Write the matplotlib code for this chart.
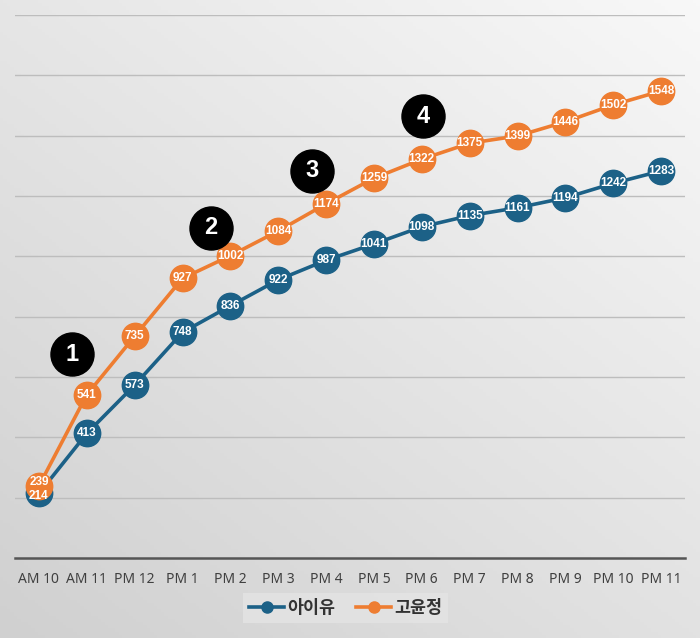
import numpy as np
import matplotlib
matplotlib.use("Agg")
import matplotlib.pyplot as plt
from matplotlib.lines import Line2D
from matplotlib.colors import LinearSegmentedColormap

hours = ["AM 10", "AM 11", "PM 12", "PM 1", "PM 2", "PM 3", "PM 4",
         "PM 5", "PM 6", "PM 7", "PM 8", "PM 9", "PM 10", "PM 11"]
iu = [214, 413, 573, 748, 836, 922, 987, 1041, 1098, 1135, 1161, 1194, 1242, 1283]
goyoonjung = [239, 541, 735, 927, 1002, 1084, 1174, 1259, 1322, 1375, 1399, 1446, 1502, 1548]
names = ["아이유", "고윤정"]

# numbered callouts (x index, value)
badge_x = [0.69, 3.6, 5.7, 8.02]
badge_y = [676, 1094, 1283, 1465]
badge_txt = ["1", "2", "3", "4"]

blue = "#1c6187"
orange = "#ee7d31"

fig = plt.figure(figsize=(7, 6.38), dpi=100)

# gradient background, darker at bottom-left
bg = fig.add_axes([0, 0, 1, 1])
xx, yy = np.meshgrid(np.linspace(0, 1, 200), np.linspace(0, 1, 200))
grad = 0.45 * xx + 0.55 * yy
cmap = LinearSegmentedColormap.from_list("bg", ["#d0d0d0", "#f8f8f8"])
bg.imshow(grad, cmap=cmap, vmin=0, vmax=1, origin="lower",
          extent=[0, 1, 0, 1], aspect="auto")
bg.axis("off")

ax = fig.add_axes([15 / 700, 80 / 638, 670 / 700, 543 / 638])
ax.patch.set_alpha(0)
x = np.arange(len(hours))

ax.plot(x, iu, color=blue, lw=2.6, marker="o", ms=19, zorder=3)
ax.plot(x, goyoonjung, color=orange, lw=2.6, marker="o", ms=19, zorder=4)
for xi, v in zip(x, iu):
    dy = -8 if xi == 0 else 0
    ax.text(xi, v + dy, str(v), color="white", fontsize=8.5, fontweight="bold",
            ha="center", va="center", family="Liberation Sans", zorder=5)
for xi, v in zip(x, goyoonjung):
    dy = 12 if xi == 0 else 0
    ax.text(xi, v + dy, str(v), color="white", fontsize=8.5, fontweight="bold",
            ha="center", va="center", family="Liberation Sans", zorder=6)

ax.scatter(badge_x, badge_y, s=960, color="black", zorder=7)
for bx, by, t in zip(badge_x, badge_y, badge_txt):
    ax.text(bx, by, t, color="white", fontsize=17, fontweight="bold",
            ha="center", va="center", family="Liberation Sans", zorder=8)

ax.set_xlim(-0.5, len(hours) - 0.5)
ax.set_ylim(0, 1800)
ax.set_yticks(np.arange(200, 1801, 200))
ax.yaxis.grid(True, color="#bdbdbd", lw=1)
ax.set_axisbelow(True)
ax.tick_params(axis="y", left=False, labelleft=False)
ax.set_xticks(x)
ax.set_xticklabels(hours, fontsize=10, color="#404040", family="Noto Sans")
ax.tick_params(axis="x", length=0, pad=10)
for s in ["top", "right", "left"]:
    ax.spines[s].set_visible(False)
ax.spines["bottom"].set_color("#555555")
ax.spines["bottom"].set_linewidth(1.8)

handles = [Line2D([0], [0], color=blue, lw=2.6, marker="o", ms=8),
           Line2D([0], [0], color=orange, lw=2.6, marker="o", ms=8)]
leg = fig.legend(handles, names, loc="center", bbox_to_anchor=(0.494, 0.0475),
                 ncol=2, frameon=True, fancybox=False, handlelength=2.0,
                 columnspacing=1.2, handletextpad=0.2, borderpad=0.35,
                 prop={"family": "Noto Sans CJK KR", "weight": "bold", "size": 12.5})
leg.get_frame().set_facecolor("#e4e4e4")
leg.get_frame().set_edgecolor("none")
for t in leg.get_texts():
    t.set_color("#333333")

fig.savefig("out.png", dpi=100)
